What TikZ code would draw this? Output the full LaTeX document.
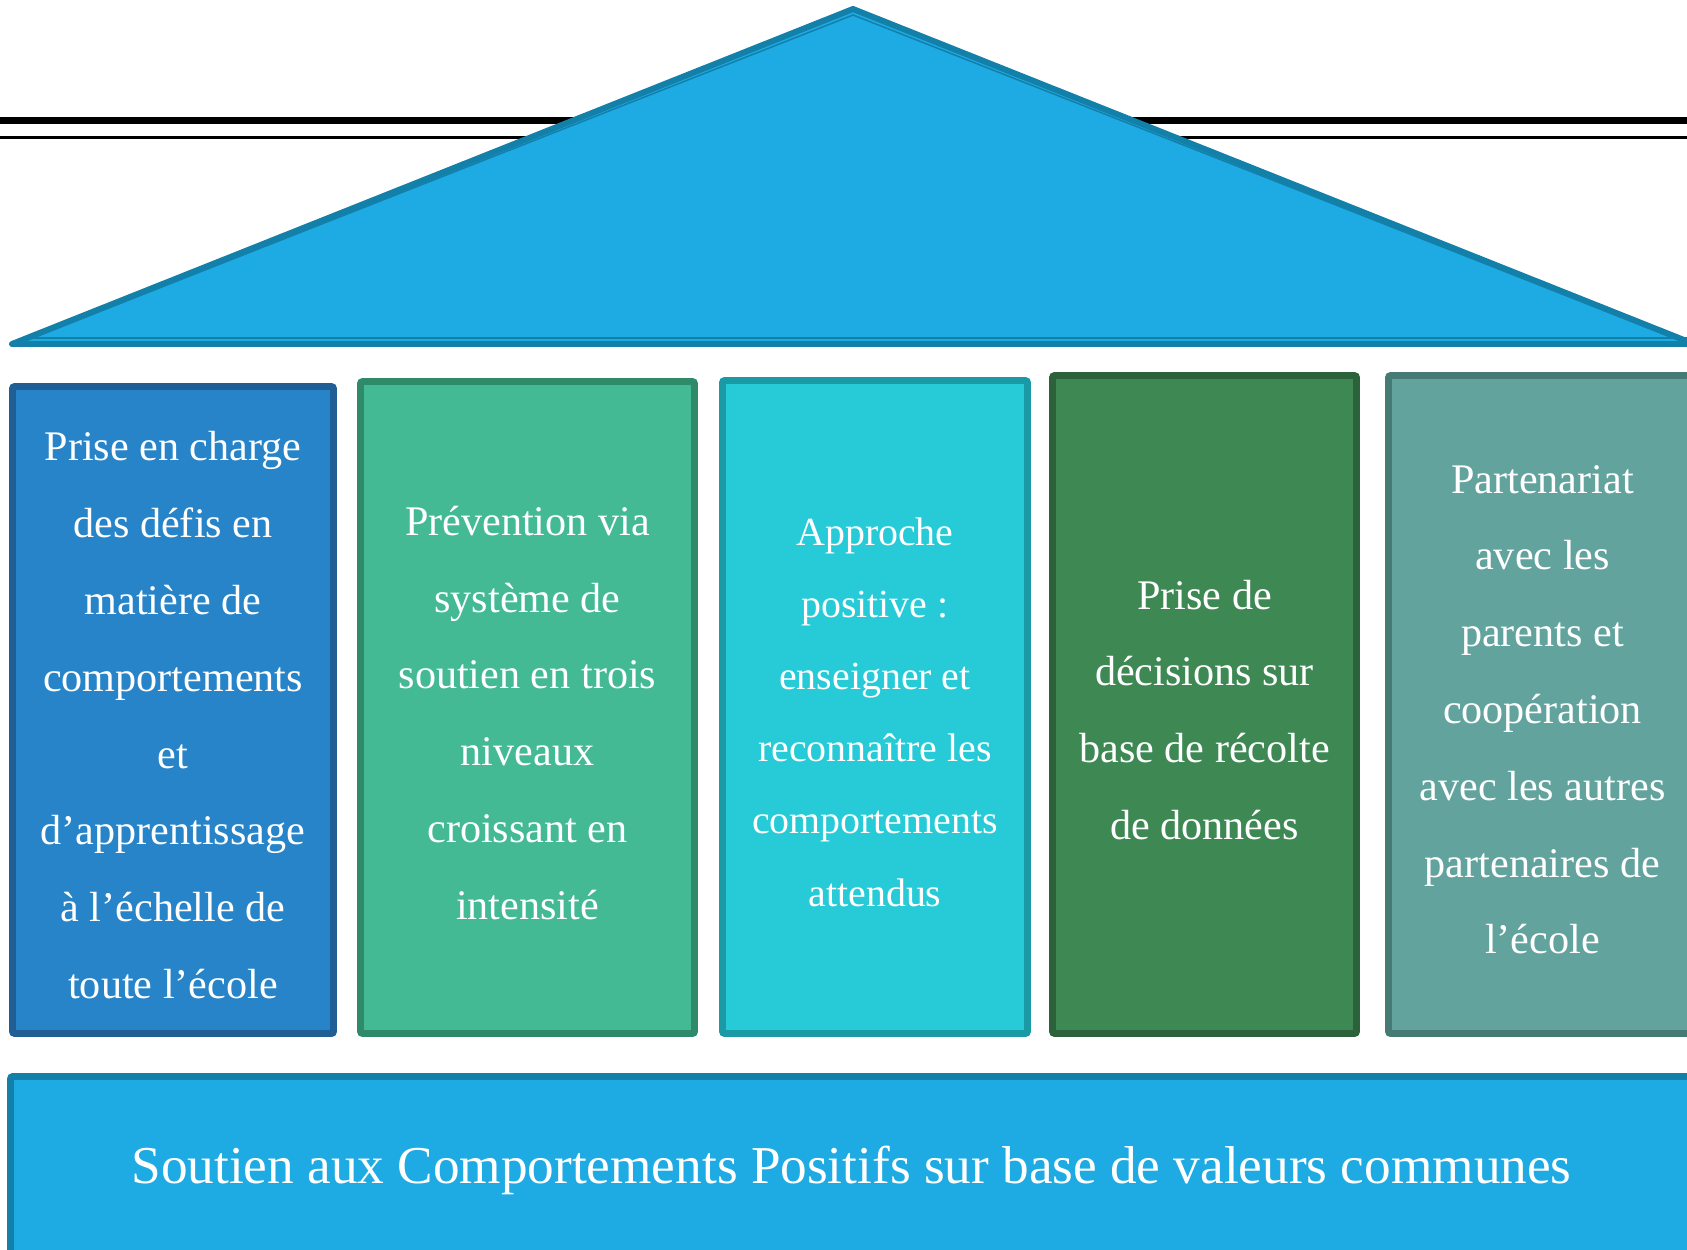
\documentclass[tikz,border=0pt]{standalone}
\usepackage{fontspec}
\setmainfont{Liberation Serif}
\usetikzlibrary{calc}

\definecolor{roof}{HTML}{1EAAE2}
\definecolor{roofedge}{HTML}{1380AA}
\definecolor{defis}{HTML}{2784C8}
\definecolor{defisedge}{HTML}{1F5F95}
\definecolor{prev}{HTML}{43B994}
\definecolor{prevedge}{HTML}{2E8A68}
\definecolor{posi}{HTML}{26CBD7}
\definecolor{posiedge}{HTML}{1A9AA5}
\definecolor{donnees}{HTML}{3E8854}
\definecolor{donneesedge}{HTML}{2C6239}
\definecolor{parte}{HTML}{62A39E}
\definecolor{parteedge}{HTML}{467A75}

\tikzset{
  pillar/.style={draw=#1edge, fill=#1, line width=3.4pt, rounded corners=1.5pt, inner sep=0pt},
  trim/.style={draw=#1, line width=0.85pt},
  caption/.style={align=center, text=white, inner sep=0pt, yshift=-3pt,
    font=\fontsize{24}{43.7}\selectfont},
}

\begin{document}
\begin{tikzpicture}[x=0.02cm, y=-0.02cm]
  \clip (0,0) rectangle (1687,1249);

  \draw[line width=4pt] (0,120.5) -- (1687,120.5);
  \draw[line width=1.3pt] (0,137.5) -- (1687,137.5);

  % roof
  \draw[fill=roof, draw=roofedge, line width=3.4pt, line join=round]
    (12,344) -- (853,9) -- (1694,344) -- cycle;
  \draw[trim=roofedge] (32,338) -- (853,15) -- (1674,338);
  \draw[trim=roofedge] (30,338) -- (1687,338);

  % pillars
  \node[pillar=defis, minimum width=6.44cm, minimum height=12.96cm] (defis) at (173,710) {};
  \node[pillar=prev, minimum width=6.70cm, minimum height=13.06cm] (prev) at (527.5,707.5) {};
  \node[pillar=posi, minimum width=6.12cm, minimum height=13.08cm] (posi) at (875,707) {};
  \node[pillar=donnees, minimum width=6.10cm, minimum height=13.18cm] (donnees) at (1204.5,704.5) {};
  \node[pillar=parte, minimum width=6.18cm, minimum height=13.18cm] (parte) at (1542.5,704.5) {};
  % base
  \node[pillar=roof, minimum width=33.8cm, minimum height=3.58cm] (base) at (855,1165.5) {};

  \foreach \n in {defis,prev,posi,donnees,parte}
    \draw[trim=\n edge] ($(\n.north west)+(6,6)$) rectangle ($(\n.south east)+(-6,-6)$);
  \draw[trim=roofedge] ($(base.north west)+(6,6)$) rectangle ($(base.south east)+(-6,-6)$);

  \node[caption] (defis-t) at (defis)
    {Prise en charge\\des défis en\\matière de\\comportements\\et\\d’apprentissage\\à l’échelle de\\toute l’école};
  \node[caption] (prev-t) at (prev)
    {Prévention via\\système de\\soutien en trois\\niveaux\\croissant en\\intensité};
  \node[caption, font=\fontsize{22.7}{41}\selectfont] (posi-t) at (posi)
    {Approche\\positive :\\enseigner et\\reconnaître les\\comportements\\attendus};
  \node[caption] (donnees-t) at (donnees)
    {Prise de\\décisions sur\\base de récolte\\de données};
  \node[caption] (parte-t) at (parte)
    {Partenariat\\avec les\\parents et\\coopération\\avec les autres\\partenaires de\\l’école};
  \node[caption, xshift=-2pt, font=\fontsize{30.3}{36}\selectfont] (base-t) at (base)
    {Soutien aux Comportements Positifs sur base de valeurs communes};
\end{tikzpicture}
\end{document}
